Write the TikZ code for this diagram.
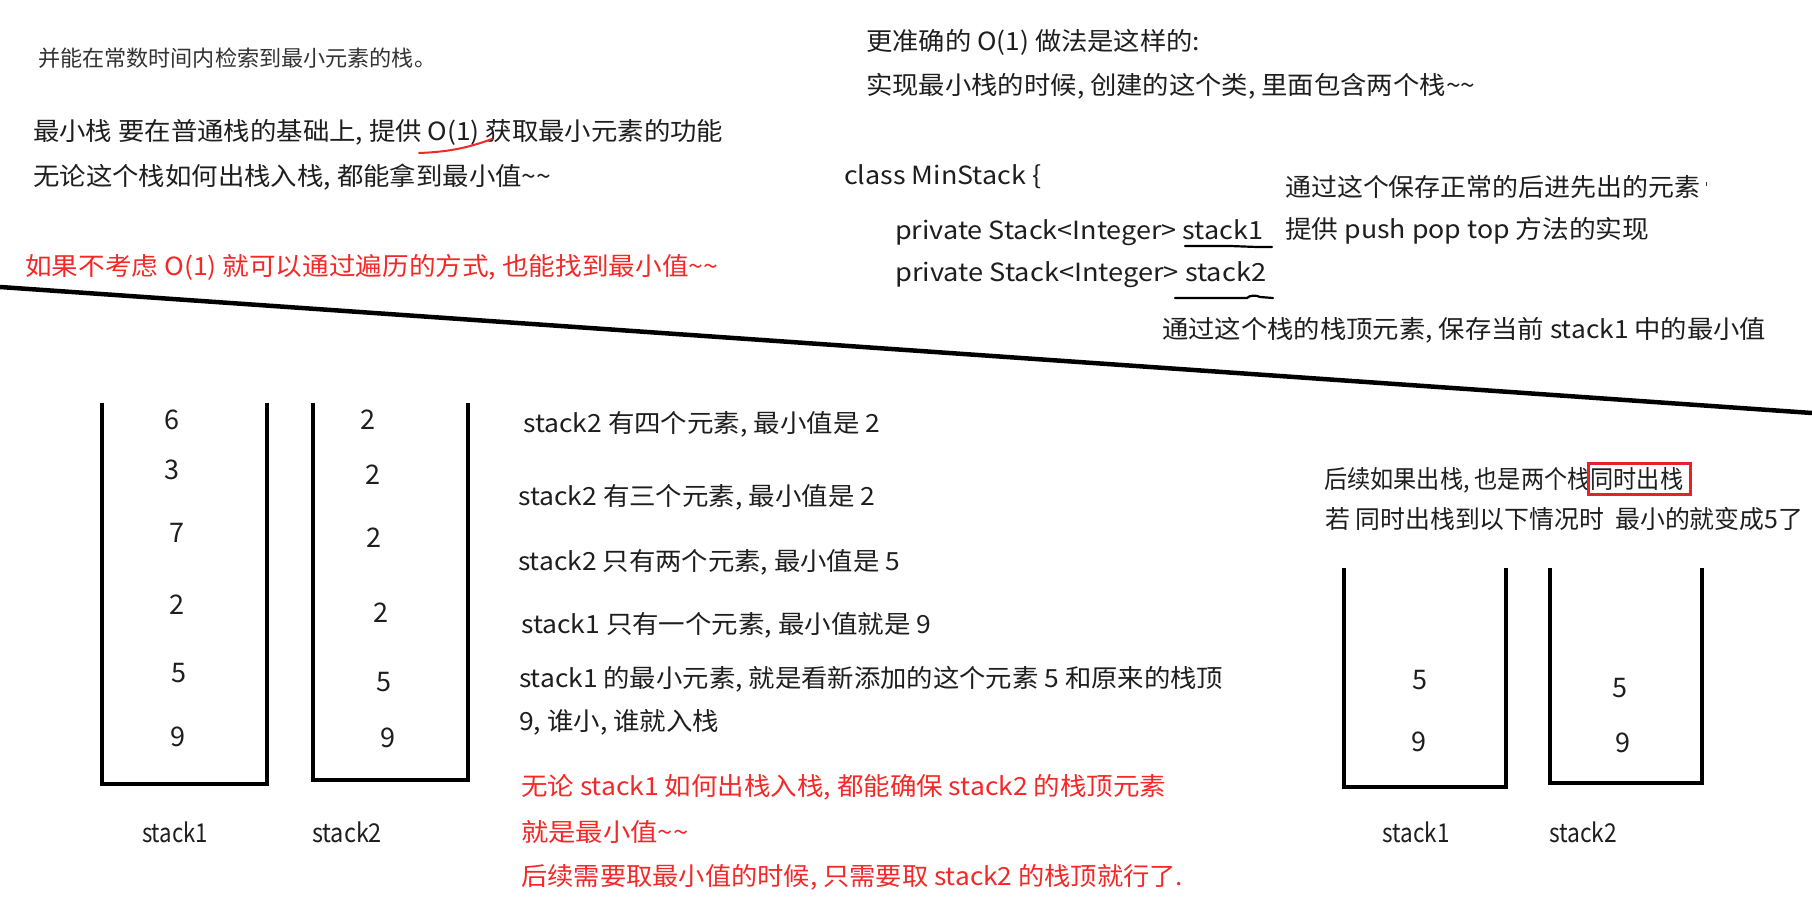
\documentclass[tikz,border=0pt]{standalone}
\usepackage{fontspec}
\setmainfont{Noto Sans CJK SC}
\definecolor{ink}{HTML}{1E1E1E}
\definecolor{inkgray}{HTML}{333333}
\definecolor{redtext}{HTML}{F52828}
\definecolor{redbox}{HTML}{E8202A}
\newcommand{\fw}[2]{\resizebox{#1pt}{\height}{#2}}
\tikzset{
  txt/.style={anchor=west, inner sep=0pt, text=ink, font=\fontsize{25}{25}\selectfont},
  redt/.style={txt, text=redtext},
  smalltxt/.style={txt, text=inkgray, font=\fontsize{22}{22}\selectfont},
  num/.style={inner sep=0pt, text=ink, font=\fontsize{27}{27}\selectfont},
  lbl/.style={inner sep=0pt, text=ink, font=\fontsize{26}{26}\selectfont},
  wall/.style={line width=4pt, draw=black, line join=miter},
  divider/.style={line width=4.5pt, draw=black},
  ulmark/.style={line width=2.2pt, draw=black, line cap=round},
  redmark/.style={line width=2pt, draw=redtext, line cap=round},
}
\begin{document}
\begin{tikzpicture}[x=1pt,y=-1pt]
\useasboundingbox[fill=white] (0,0) rectangle (1812,904);

% divider
\draw[divider] (0,287) -- (1812,413);

% top-left texts
\node[smalltxt] (t1) at (38,58) {\fw{398}{并能在常数时间内检索到最小元素的栈。}};
\node[txt] (t2) at (33,132) {\fw{690}{最小栈 要在普通栈的基础上, 提供 O(1) 获取最小元素的功能}};
\node[txt] (t3) at (33,177) {\fw{518}{无论这个栈如何出栈入栈, 都能拿到最小值\~{}\~{}}};
\node[redt] (t4) at (25,267) {\fw{693}{如果不考虑 O(1) 就可以通过遍历的方式, 也能找到最小值\~{}\~{}}};
\draw[redmark] (419,153) .. controls (445,152) and (465,149) .. (492,139);

% top-right texts
\node[txt] (t5) at (866,42) {\fw{334}{更准确的 O(1) 做法是这样的:}};
\node[txt] (t6) at (866,86) {\fw{609}{实现最小栈的时候, 创建的这个类, 里面包含两个栈\~{}\~{}}};
\node[txt] (t7) at (844,177) {\fw{197}{class MinStack \{}};
\node[txt] (t8) at (895,233) {\fw{368}{private Stack<Integer> stack1}};
\node[txt] (t9) at (895,275) {\fw{371}{private Stack<Integer> stack2}};
\node[txt] (t10) at (1285,187) {\fw{415}{通过这个保存正常的后进先出的元素}};
\draw[line width=1pt, draw=inkgray] (t10.east) ++(6,-1) -- ++(0,-4);
\node[txt] (t11) at (1285,231) {\fw{364}{提供 push pop top 方法的实现}};
\node[txt] (t12) at (1162,330) {\fw{604}{通过这个栈的栈顶元素, 保存当前 stack1 中的最小值}};
\draw[ulmark] (1185,246) -- (1230,246) -- (1257,247) -- (1272,247);
\draw[ulmark] (1175,298) -- (1247,298) .. controls (1250,295) and (1256,295) .. (1260,297) -- (1273,298);

% left stacks
\draw[wall] (102,403) -- (102,784) -- (267,784) -- (267,403);
\draw[wall] (313,403) -- (313,780) -- (468,780) -- (468,403);
\node[num] (a6) at (172,420) {6};
\node[num] (a3) at (172,470) {3};
\node[num] (a7) at (177,533) {7};
\node[num] (a2) at (177,605) {2};
\node[num] (a5) at (179,673) {5};
\node[num] (a9) at (178,737) {9};
\node[num] (b2a) at (368,420) {2};
\node[num] (b2b) at (373,475) {2};
\node[num] (b2c) at (374,538) {2};
\node[num] (b2d) at (381,613) {2};
\node[num] (b5) at (384,682) {5};
\node[num] (b9) at (388,738) {9};
\node[lbl] (l1) at (175,832) {\fw{66}{stack1}};
\node[lbl] (l2) at (347,832) {\fw{70}{stack2}};

% middle explanation
\node[txt] (t13) at (523,424) {\fw{357}{stack2 有四个元素, 最小值是 2}};
\node[txt] (t14) at (518,497) {\fw{357}{stack2 有三个元素, 最小值是 2}};
\node[txt] (t15) at (518,562) {\fw{382}{stack2 只有两个元素, 最小值是 5}};
\node[txt] (t16) at (521,625) {\fw{410}{stack1 只有一个元素, 最小值就是 9}};
\node[txt] (t17) at (519,679) {\fw{704}{stack1 的最小元素, 就是看新添加的这个元素 5 和原来的栈顶}};
\node[txt] (t18) at (519,722) {\fw{200}{9, 谁小, 谁就入栈}};
\node[redt] (t19) at (521,787) {\fw{645}{无论 stack1 如何出栈入栈, 都能确保 stack2 的栈顶元素}};
\node[redt] (t20) at (521,832) {\fw{167}{就是最小值\~{}\~{}}};
\node[redt] (t21) at (521,877) {\fw{662}{后续需要取最小值的时候, 只需要取 stack2 的栈顶就行了.}};

% right part
\node[txt] (t22) at (1324,480) {\fw{359}{后续如果出栈, 也是两个栈同时出栈}};
\draw[line width=3pt, draw=redbox] (1588,463) rectangle (1690,494);
\node[txt] (t23) at (1325,519) {\fw{478}{若 同时出栈到以下情况时\ \ 最小的就变成5了}};
\draw[wall] (1344,568) -- (1344,787) -- (1506,787) -- (1506,568);
\draw[wall] (1550,568) -- (1550,783) -- (1702,783) -- (1702,568);
\node[num] (c5) at (1420,680) {5};
\node[num] (c9) at (1419,742) {9};
\node[num] (d5) at (1620,688) {5};
\node[num] (d9) at (1623,743) {9};
\node[lbl] (l3) at (1416,832) {\fw{67}{stack1}};
\node[lbl] (l4) at (1583,832) {\fw{68}{stack2}};
\end{tikzpicture}
\end{document}
